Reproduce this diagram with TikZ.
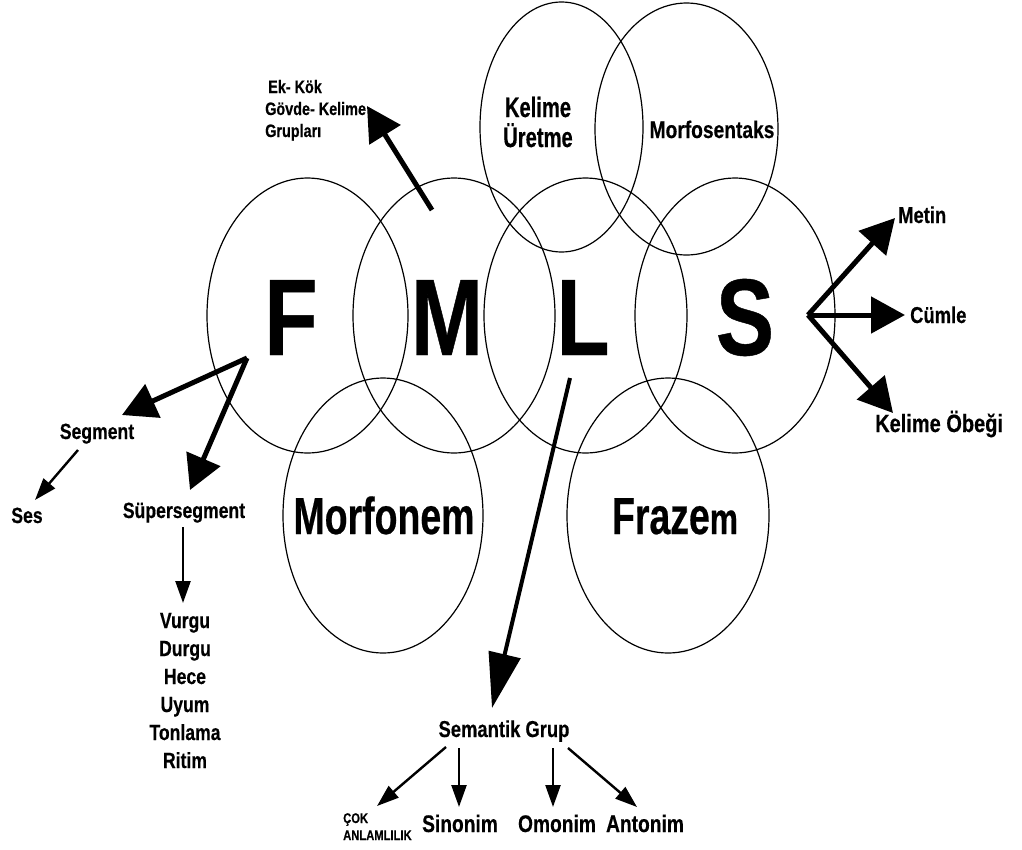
\documentclass[tikz,border=0pt]{standalone}
\usepackage{fontspec}
\setmainfont{Liberation Sans}[FakeStretch=0.8,FakeBold=0.4]
\newfontfamily\narrowfam{Liberation Sans}[FakeStretch=0.72,FakeBold=0.4]
\usetikzlibrary{arrows.meta,calc}
\newcommand\fsz[1]{\fontsize{#1}{#1}\selectfont}
\tikzset{
  ring/.style={line width=1.2pt},
  lbl/.style={inner sep=0pt, font=\bfseries\fsz{22}},
  bigarrow/.style={line width=5pt, -{Triangle[length=34pt,width=36pt]}},
  longarrow/.style={line width=4pt, -{Triangle[length=55pt,width=32pt]}},
  thinarrow/.style={line width=2.4pt, -{Triangle[length=22pt,width=15pt]}},
}
\begin{document}
\begin{tikzpicture}[x=1pt,y=-1pt]
\fill[white] (0,0) rectangle (1022,849);
\useasboundingbox (0,0) rectangle (1022,849);
% ellipses
\draw[ring] (307.5,315.5) ellipse [x radius=100.5, y radius=137.5];
\draw[ring] (454,315.5) ellipse [x radius=101, y radius=137.5];
\draw[ring] (585.5,315.5) ellipse [x radius=101.5, y radius=137.5];
\draw[ring] (735,315.5) ellipse [x radius=100, y radius=137.5];
\draw[ring] (561.5,127) ellipse [x radius=81.5, y radius=125];
\draw[ring] (686.5,129) ellipse [x radius=91.5, y radius=126];
\draw[ring] (383,515.5) ellipse [x radius=100, y radius=137.5];
\draw[ring] (668,515.5) ellipse [x radius=101, y radius=137.5];
% big letters
\node[lbl, anchor=base, font=\bfseries\fsz{109}] (F) at (291,355) {F};
\node[lbl, anchor=base, font=\bfseries\fsz{109}] (M) at (447,355) {M};
\node[lbl, anchor=base, font=\bfseries\fsz{109}] (L) at (583,355) {L};
\node[lbl, anchor=base, font=\bfseries\fsz{109}] (S) at (745,355) {S};
% ellipse texts
\node[lbl, anchor=base, font=\narrowfam\bfseries\fsz{52}] (morfonem) at (384,534) {Morfonem};
\node[lbl, anchor=base, font=\narrowfam\bfseries\fsz{52}] (frazem) at (675,534) {Fraze{\fsz{44}m}};
\node[lbl, anchor=base, font=\narrowfam\bfseries\fsz{28}] (kelime) at (538,117) {Kelime};
\node[lbl, anchor=base, font=\narrowfam\bfseries\fsz{28}] (uretme) at (538,147) {Üretme};
\node[lbl, anchor=base, font=\bfseries\fsz{24}] (morfosentaks) at (712,138) {Morfosentaks};
% top-left labels
\node[lbl, anchor=base west, font=\bfseries\fsz{18}] (ek1) at (268,93) {Ek- Kök};
\node[lbl, anchor=base west, font=\bfseries\fsz{18}] (ek2) at (265,115) {Gövde- Kelime};
\node[lbl, anchor=base west, font=\bfseries\fsz{18}] (ek3) at (265,137) {Grupları};
% F side labels
\node[lbl, anchor=base] (segment) at (97,439) {Segment};
\node[lbl, anchor=base] (ses) at (27,523) {Ses};
\node[lbl, anchor=base] (supseg) at (184,518) {Süpersegment};
\node[lbl, anchor=base] (vurgu) at (185,628) {Vurgu};
\node[lbl, anchor=base] (durgu) at (185,656) {Durgu};
\node[lbl, anchor=base] (hece) at (185,684) {Hece};
\node[lbl, anchor=base] (uyum) at (185,712) {Uyum};
\node[lbl, anchor=base] (tonlama) at (185,740) {Tonlama};
\node[lbl, anchor=base] (ritim) at (185,768) {Ritim};
% S side labels
\node[lbl, anchor=base west, font=\bfseries\fsz{23}] (metin) at (898,223) {Metin};
\node[lbl, anchor=base west, font=\bfseries\fsz{23}] (cumle) at (910,323) {Cümle};
\node[lbl, anchor=base west, font=\bfseries\fsz{25}] (obek) at (875,432) {Kelime Öbeği};
% L side labels
\node[lbl, anchor=base, font=\bfseries\fsz{23}] (semantik) at (504,737) {Semantik Grup};
\node[lbl, anchor=base west, font=\bfseries\fsz{14}] (cok1) at (343,823) {ÇOK};
\node[lbl, anchor=base west, font=\bfseries\fsz{14}] (cok2) at (343,840) {ANLAMLILIK};
\node[lbl, anchor=base, font=\bfseries\fsz{24}] (sinonim) at (460,832) {Sinonim};
\node[lbl, anchor=base, font=\bfseries\fsz{24}] (omonim) at (557,832) {Omonim};
\node[lbl, anchor=base, font=\bfseries\fsz{24}] (antonim) at (645,832) {Antonim};
% connector coordinates
\coordinate (mtail) at (432,210);
\coordinate (ektip) at (367,106);
\coordinate (fsrc) at (247,358);
\coordinate (segtip) at (122,415);
\coordinate (suptip) at (190,490);
\coordinate (lsrc) at (570,378);
\coordinate (ltip) at (492,708);
\coordinate (ssrc) at (808,315);
\coordinate (metintip) at (895,218);
\coordinate (cumletip) at (905,315);
\coordinate (obektip) at (893,413);
\coordinate (segout) at (78,450);
\coordinate (sestip) at (35,500);
\coordinate (supout) at (183,527);
\coordinate (vurgutip) at (183,603);
\coordinate (s1) at (446,747);
\coordinate (s2) at (459,748);
\coordinate (s3) at (553,748);
\coordinate (s4) at (568,748);
\coordinate (coktip) at (377,806);
\coordinate (sintip) at (459,807);
\coordinate (omtip) at (553,807);
\coordinate (anttip) at (637,807);
% connectors
\draw[bigarrow] (mtail) -- (ektip);
\draw[bigarrow] (fsrc) -- (segtip);
\draw[bigarrow] (fsrc) -- (suptip);
\draw[bigarrow] (ssrc) -- (metintip);
\draw[bigarrow] (ssrc) -- (cumletip);
\draw[bigarrow] (ssrc) -- (obektip);
\draw[longarrow] (lsrc) -- (ltip);
\draw[thinarrow] (segout) -- (sestip);
\draw[thinarrow] (supout) -- (vurgutip);
\draw[thinarrow] (s1) -- (coktip);
\draw[thinarrow] (s2) -- (sintip);
\draw[thinarrow] (s3) -- (omtip);
\draw[thinarrow] (s4) -- (anttip);
\end{tikzpicture}
\end{document}
